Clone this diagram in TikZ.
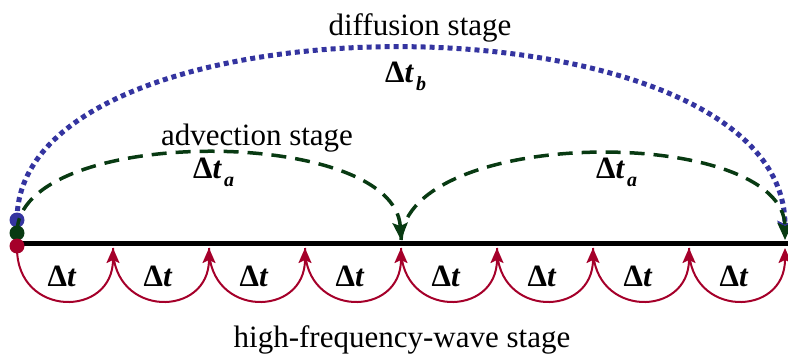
\documentclass[tikz,border=0pt]{standalone}
\usepackage{fontspec}
\setmainfont{Liberation Serif}
\usetikzlibrary{arrows.meta}
\definecolor{cred}{RGB}{165,0,42}
\definecolor{cgreen}{RGB}{8,58,18}
\definecolor{cblue}{RGB}{52,52,160}
\tikzset{
  stagetext/.style={inner sep=0pt, anchor=base, font=\fontsize{31}{36}\selectfont},
  dtlabel/.style={inner sep=0pt, anchor=base, font=\fontsize{31}{34}\selectfont\bfseries},
  redarc/.style={cred, line width=2pt, -{Stealth[length=15pt,width=13pt,inset=3pt]}},
  greenarc/.style={cgreen, line width=3.5pt, dash pattern=on 15pt off 9pt, -{Stealth[length=17pt,width=15pt,inset=3pt]}},
  bluearc/.style={cblue, line width=5pt, dash pattern=on 5pt off 4pt, -{Stealth[length=17pt,width=15pt,inset=3pt]}},
  dotmark/.style={circle, inner sep=0pt, minimum size=15pt},
}
\newcommand{\dtsub}[1]{Δ\textit{t}\kern2pt\raisebox{-8pt}{\fontsize{20}{20}\selectfont\itshape #1}}
\begin{document}
\begin{tikzpicture}[x=1pt,y=-1pt]
\useasboundingbox (0,0) rectangle (788,356);
% base line
\coordinate (L0) at (17,243);
\coordinate (L1) at (788,243);
\draw[line width=5pt] (L0) -- (L1);
% red points
\foreach \i in {0,...,8} {
  \coordinate (p\i) at ({17+96*\i},248);
}
% green points
\coordinate (gA) at (17,233);
\coordinate (gM) at (401,240);
\coordinate (gE) at (785,240);
% blue points
\coordinate (bA) at (17,220);
\coordinate (bE) at (785,238);
% blue arc
\draw[bluearc] (bA) .. controls (17,-12) and (785,-12) .. (bE);
\node[dotmark, fill=cblue] (bdot) at (bA) {};
% green arcs
\draw[greenarc] (gA) .. controls (17,125) and (395,125) .. (gM);
\draw[greenarc] (gM) .. controls (407,125) and (785,125) .. (gE);
\node[dotmark, fill=cgreen] (gdot) at (gA) {};
% red arcs
\foreach \i [evaluate=\i as \j using int(\i+1)] in {0,...,7} {
  \draw[redarc] (p\i) .. controls +(0,70) and +(0,70) .. (p\j);
}
\node[dotmark, fill=cred] (rdot) at (17,246) {};
% bottom labels
\foreach \i in {0,...,7} {
  \node[dtlabel] (dt\i) at ({62+96*\i},286) {Δ\textit{t}};
}
\node[dtlabel, anchor=base west] (dta1) at (193,178) {\dtsub{a}};
\node[dtlabel, anchor=base west] (dta2) at (596,178) {\dtsub{a}};
\node[dtlabel, anchor=base west] (dtb) at (385,82) {\dtsub{b}};
% stage names
\node[stagetext] (diff) at (420,35) {diffusion stage};
\node[stagetext] (adv) at (257,145) {advection stage};
\node[stagetext] (hfw) at (402,347) {high-frequency-wave stage};
\end{tikzpicture}
\end{document}
